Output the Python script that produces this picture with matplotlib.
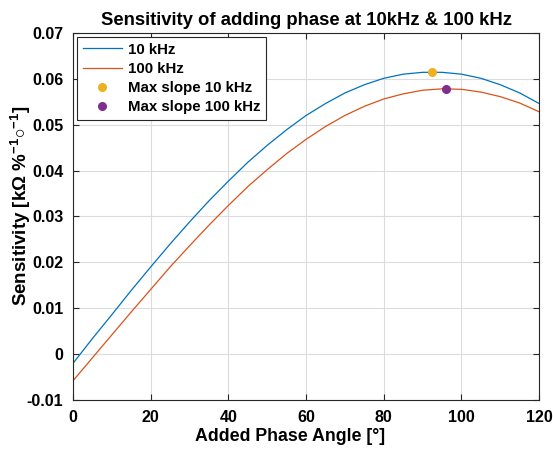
import matplotlib as mpl
mpl.use("Agg")
import matplotlib.pyplot as plt

plt.rcParams['font.family'] = ['Liberation Sans', 'DejaVu Sans']
plt.rcParams['font.weight'] = 'bold'
plt.rcParams['mathtext.fontset'] = 'custom'
plt.rcParams['mathtext.rm'] = 'Liberation Sans:bold'
plt.rcParams['mathtext.it'] = 'Liberation Sans:bold'
plt.rcParams['mathtext.bf'] = 'Liberation Sans:bold'

# added phase angle [deg]
phase = [0, 5, 10, 15, 20, 25, 30, 35, 40, 45, 50, 55, 60,
         65, 70, 75, 80, 85, 90, 95, 100, 105, 110, 115, 120]

sens_10k = [-0.0020, 0.0034, 0.0086, 0.0139, 0.0190, 0.0240, 0.0288, 0.0334,
            0.0377, 0.0418, 0.0455, 0.0489, 0.0520, 0.0546, 0.0569, 0.0587,
            0.0601, 0.0610, 0.0614, 0.0614, 0.0610, 0.0601, 0.0587, 0.0569,
            0.0546]

sens_100k = [-0.0058, -0.0008, 0.0042, 0.0092, 0.0141, 0.0190, 0.0236, 0.0281,
             0.0324, 0.0365, 0.0402, 0.0437, 0.0468, 0.0496, 0.0520, 0.0540,
             0.0556, 0.0567, 0.0575, 0.0578, 0.0577, 0.0571, 0.0561, 0.0547,
             0.0528]

max_10k = (92.3, 0.0615)
max_100k = (96.0, 0.0578)

fig = plt.figure(figsize=(5.53, 4.5), dpi=100)
ax = fig.add_axes([0.132, 0.111, 0.843, 0.816])

ax.plot(phase, sens_10k, color='#0072BD', lw=0.9, label='10 kHz')
ax.plot(phase, sens_100k, color='#D95319', lw=0.9, label='100 kHz')
ax.plot(*max_10k, 'o', color='#EDB120', ms=5.5, label='Max slope 10 kHz')
ax.plot(*max_100k, 'o', color='#7E2F8E', ms=5.5, label='Max slope 100 kHz')

ax.set_xlim(0, 120)
ax.set_ylim(-0.01, 0.07)
ax.set_xticks(range(0, 121, 20))
ax.set_yticks([-0.01, 0, 0.01, 0.02, 0.03, 0.04, 0.05, 0.06, 0.07])
ax.set_yticklabels(['-0.01', '0', '0.01', '0.02', '0.03', '0.04', '0.05', '0.06', '0.07'])
ax.grid(True, color='#dcdcdc', lw=0.8)
ax.set_axisbelow(True)
ax.tick_params(direction='in', length=4, width=0.8, color='#262626',
               labelsize=11.5, top=True, right=True, pad=7)
for s in ax.spines.values():
    s.set_color('#262626')
    s.set_linewidth(0.8)

ax.set_title('Sensitivity of adding phase at 10kHz & 100 kHz',
             fontsize=13.3, fontweight='bold', pad=6)
ax.set_xlabel('Added Phase Angle [°]', fontsize=12.8, fontweight='bold')
ax.xaxis.set_label_coords(0.466, -0.075)
ax.set_ylabel(r'Sensitivity [k$\Omega$ %$^{-1}$$\circ^{-1}$]',
              fontsize=13.5, fontweight='bold')
ax.yaxis.set_label_coords(-0.085, 0.53)

leg = ax.legend(loc='upper left', bbox_to_anchor=(0.0, 1.0), fontsize=10.8,
                frameon=True, fancybox=False, borderaxespad=0.25,
                handlelength=2.6, handletextpad=0.4, labelspacing=0.35,
                borderpad=0.4)
leg.get_frame().set_edgecolor('#262626')
leg.get_frame().set_linewidth(0.8)
leg.get_frame().set_alpha(1)

fig.savefig('out.png', dpi=100)
